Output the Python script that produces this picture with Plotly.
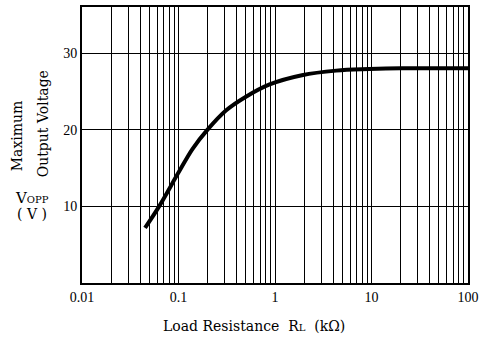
import plotly.graph_objects as go

# Data
load_kohm = [0.045, 0.063, 0.1, 0.14, 0.2, 0.31, 0.5, 0.88, 1.9, 4.3, 9.5, 20, 50, 100]
vopp = [7.2, 10.0, 14.4, 17.5, 20.0, 22.5, 24.3, 25.9, 27.1, 27.7, 27.9, 28.0, 28.0, 28.0]

decades = [0.01, 0.1, 1, 10]
mults = [1, 2, 3, 4, 5, 6, 7, 8, 9]
x_tickvals = [d * m for d in decades for m in mults] + [100]
x_label_map = {0.01: "0.01", 0.1: "0.1", 1: "1", 10: "10", 100: "100"}
x_ticktext = [x_label_map.get(round(v, 6), "") for v in x_tickvals]
y_tickvals = [10, 20, 30]
y_ticktext = ["10", "20", "30"]

tick_font = "Liberation Serif, Times New Roman, serif"
title_font = "DejaVu Serif, Liberation Serif, serif"

fig = go.Figure()
fig.add_trace(go.Scatter(
    x=load_kohm, y=vopp, mode="lines",
    line=dict(color="black", width=4, shape="spline", smoothing=1.0),
    showlegend=False, hoverinfo="skip",
))

fig.update_xaxes(
    type="log", range=[-2, 2],
    tickvals=x_tickvals, ticktext=x_ticktext,
    showgrid=True, gridcolor="black", gridwidth=1.2,
    showline=True, linecolor="black", linewidth=2, mirror=True,
    ticks="", zeroline=False,
    tickfont=dict(family=tick_font, size=14, color="black"),
)
fig.update_yaxes(
    range=[0, 36],
    tickvals=y_tickvals, ticktext=y_ticktext,
    showgrid=True, gridcolor="black", gridwidth=1.2,
    showline=True, linecolor="black", linewidth=2, mirror=True,
    ticks="", zeroline=False,
    tickfont=dict(family=tick_font, size=14, color="black"),
)

pl, pr, pt, pb = 82, 15, 5, 55
pw, ph = 484 - pl - pr, 338 - pt - pb

annots = [
    dict(text="Maximum", x=17, y=135, textangle=-90, size=14),
    dict(text="Output Voltage", x=43, y=123, textangle=-90, size=14),
    dict(text="V<span style='font-size:10px'>OPP</span>", x=32, y=197, textangle=0, size=15),
    dict(text="( V )", x=32, y=214, textangle=0, size=14),
    dict(text="Load Resistance  R<span style='font-size:10px'>L</span>  (kΩ)", x=254, y=326, textangle=0, size=14),
]
for a in annots:
    fig.add_annotation(
        text=a["text"], x=(a["x"] - pl) / pw, y=1 - (a["y"] - pt) / ph,
        xref="paper", yref="paper", showarrow=False,
        xanchor="center", yanchor="middle", textangle=a["textangle"],
        font=dict(family=title_font, size=a["size"], color="black"),
    )

fig.update_layout(
    width=484, height=338,
    margin=dict(l=pl, r=pr, t=pt, b=pb),
    plot_bgcolor="white", paper_bgcolor="white",
    font=dict(family=tick_font, color="black"),
)

fig.write_html(
    "out.html",
    config={"displayModeBar": False},
    post_script="document.body.style.margin='0';document.body.style.padding='0';",
)
